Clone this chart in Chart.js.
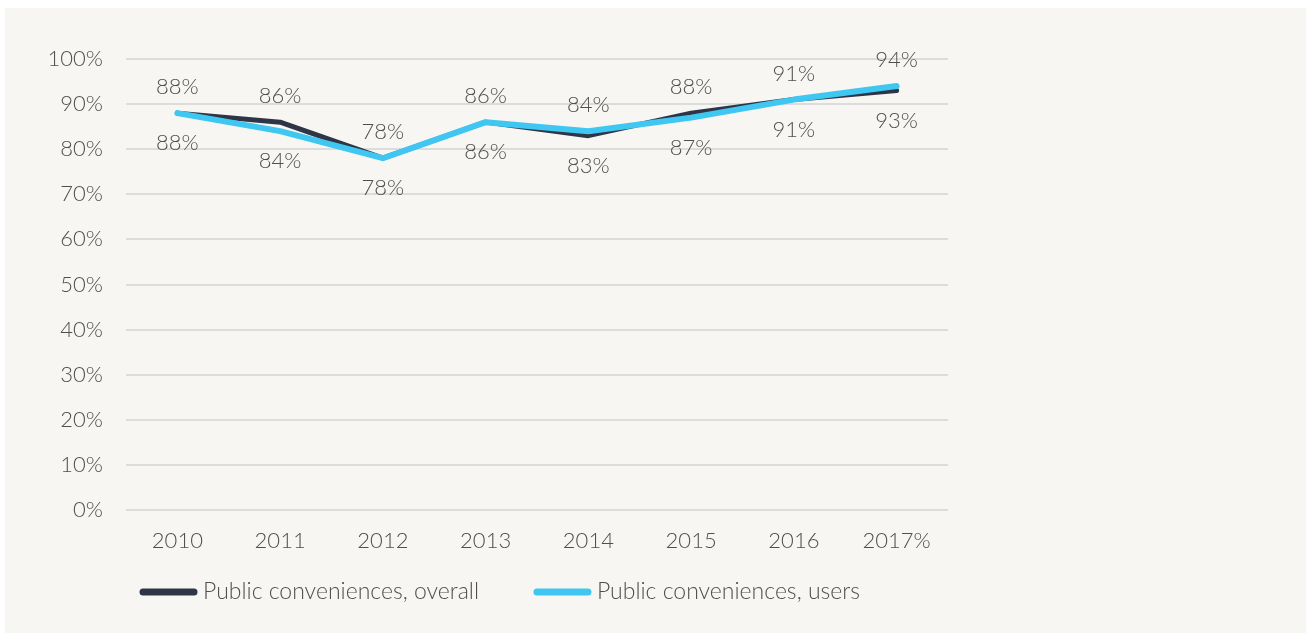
<!DOCTYPE html>
<html>
<head>
<meta charset="utf-8">
<script src="https://cdn.jsdelivr.net/npm/chart.js@4"></script>
<style>
html, body { margin: 0; padding: 0; background: #fff; }
#panel { position: absolute; left: 5px; top: 8px; width: 1301px; height: 625px; background: #f7f6f2; }
#wrap { position: absolute; left: 0; top: 0; width: 1308px; height: 635px; }
</style>
</head>
<body>
<div id="panel"></div>
<div id="wrap"><canvas id="myChart"></canvas></div>
<script>
// eje X
var years = ['2010', '2011', '2012', '2013', '2014', '2015', '2016', '2017%']
// eje Y, en %
var overall = [88, 86, 78, 86, 83, 88, 91, 93]
var users = [88, 84, 78, 86, 84, 87, 91, 94]
var seriesNames = ['Public conveniences, overall', 'Public conveniences, users']
var yMin = 0, yMax = 100, yStep = 10

var dark = '#2e3547'
var blue = '#3fc7f2'
var textColor = '#4f4f4f'
var font = 'Lato, "Open Sans", sans-serif'
var fontSize = 22

// etiquetas de valor: la serie mas alta arriba, la otra abajo
var valueLabels = {
  id: 'valueLabels',
  afterDatasetsDraw: function(chart) {
    var ctx = chart.ctx
    var a = chart.getDatasetMeta(0).data
    var b = chart.getDatasetMeta(1).data
    ctx.save()
    ctx.font = '300 ' + fontSize + 'px ' + font
    ctx.fillStyle = textColor
    ctx.textAlign = 'center'
    ctx.textBaseline = 'middle'
    for (var i = 0; i < years.length; i++) {
      var top, bottom, topVal, bottomVal
      if (overall[i] >= users[i]) {
        top = a[i]; topVal = overall[i]; bottom = b[i]; bottomVal = users[i]
      } else {
        top = b[i]; topVal = users[i]; bottom = a[i]; bottomVal = overall[i]
      }
      ctx.fillText(topVal + '%', top.x, top.y - 26)
      ctx.fillText(bottomVal + '%', bottom.x, bottom.y + 30)
    }
    ctx.restore()
  }
}

// leyenda abajo a la izquierda
var bottomLegend = {
  id: 'bottomLegend',
  afterDraw: function(chart) {
    var ctx = chart.ctx
    var colors = [dark, blue]
    var x = 143
    var y = 592
    ctx.save()
    ctx.font = '300 23px ' + font
    ctx.textBaseline = 'middle'
    ctx.textAlign = 'left'
    for (var i = 0; i < seriesNames.length; i++) {
      ctx.strokeStyle = colors[i]
      ctx.lineWidth = 7
      ctx.lineCap = 'round'
      ctx.beginPath()
      ctx.moveTo(x, y)
      ctx.lineTo(x + 51, y)
      ctx.stroke()
      ctx.fillStyle = textColor
      ctx.fillText(seriesNames[i], x + 60, y)
      x = x + 60 + ctx.measureText(seriesNames[i]).width + 58
    }
    ctx.restore()
  }
}

var ctx = document.getElementById('myChart').getContext('2d')
var myChart = new Chart(ctx, {
  type: 'line',
  data: {
    labels: years,
    datasets: [{
      label: seriesNames[0],
      data: overall,
      borderColor: dark,
      backgroundColor: dark,
      borderWidth: 5,
      pointRadius: 0,
      tension: 0,
      borderCapStyle: 'round',
      borderJoinStyle: 'round',
      order: 1
    }, {
      label: seriesNames[1],
      data: users,
      borderColor: blue,
      backgroundColor: blue,
      borderWidth: 6,
      pointRadius: 0,
      tension: 0,
      borderCapStyle: 'round',
      borderJoinStyle: 'round',
      order: 0
    }]
  },
  options: {
    responsive: true,
    maintainAspectRatio: false,
    animation: false,
    layout: { padding: { left: 0, top: 59, right: 360, bottom: 80 } },
    plugins: {
      legend: { display: false },
      tooltip: { enabled: false }
    },
    scales: {
      x: {
        offset: true,
        grid: { display: false, drawTicks: false },
        border: { display: false },
        ticks: { color: textColor, font: { family: font, size: fontSize, weight: '300' }, padding: 18, maxRotation: 0 },
        afterFit: function(s) { s.height = 45 }
      },
      y: {
        min: yMin,
        max: yMax,
        grid: { color: '#dcdcdc', lineWidth: 2, drawTicks: false },
        border: { display: false },
        ticks: {
          stepSize: yStep,
          color: textColor,
          font: { family: font, size: fontSize, weight: '300' },
          padding: 23,
          callback: function(v) { return v + '%' }
        },
        afterFit: function(s) { s.width = 126 }
      }
    }
  },
  plugins: [valueLabels, bottomLegend]
})
</script>
</body>
</html>
